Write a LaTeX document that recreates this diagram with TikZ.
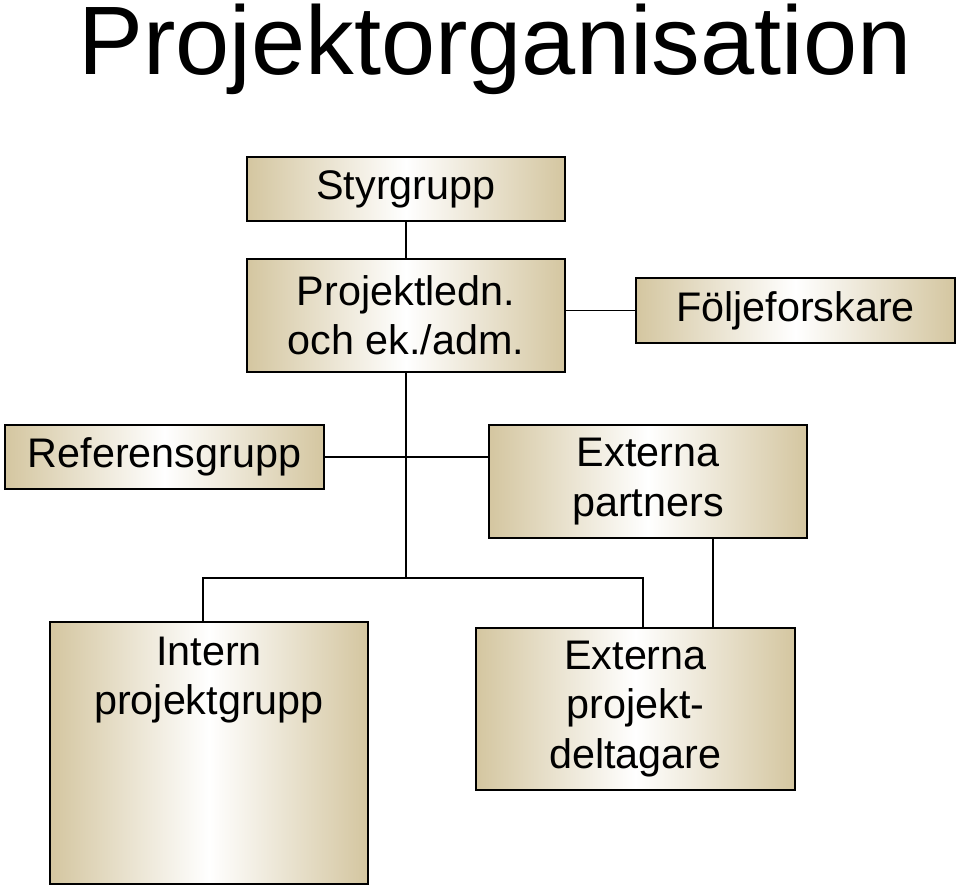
\documentclass[tikz,border=0pt]{standalone}
\usepackage{fontspec}
\setmainfont{Liberation Sans}
\definecolor{tan}{RGB}{212,198,160}
\begin{document}
\begin{tikzpicture}[x=0.75pt, y=-0.75pt, line width=1.2pt,
    orgbox/.style={draw, left color=tan, right color=tan, middle color=white, inner sep=0pt},
    orgtext/.style={align=center, font=\fontsize{31}{37}\selectfont}]
    \useasboundingbox (0,0) rectangle (960,886);

    % title
    \node[font=\fontsize{73}{80}\selectfont] (title) at (495,49) {Projektorganisation};

    % boxes
    \node[orgbox, minimum width=318*0.75pt, minimum height=64*0.75pt] (styr) at (406,189) {};
    \node[orgbox, minimum width=318*0.75pt, minimum height=113*0.75pt] (proj) at (406,315.5) {};
    \node[orgbox, minimum width=319*0.75pt, minimum height=65*0.75pt] (folj) at (795.5,310.5) {};
    \node[orgbox, minimum width=319*0.75pt, minimum height=64*0.75pt] (ref) at (164.5,457) {};
    \node[orgbox, minimum width=318*0.75pt, minimum height=113*0.75pt] (extp) at (648,481.5) {};
    \node[orgbox, minimum width=318*0.75pt, minimum height=262*0.75pt] (intern) at (209,753) {};
    \node[orgbox, minimum width=319*0.75pt, minimum height=162*0.75pt] (extd) at (635.5,709) {};

    % texts
    \node[orgtext] (styrtxt) at (styr) {Styrgrupp};
    \node[orgtext] (projtxt) at (proj) {Projektledn.\\och ek./adm.};
    \node[orgtext] (foljtxt) at (folj) {Följeforskare};
    \node[orgtext] (reftxt) at (ref) {Referensgrupp};
    \node[orgtext] (extptxt) at (extp) {Externa\\partners};
    \node[orgtext] (interntxt) at (209,680) {Intern\\projektgrupp};
    \node[orgtext] (extdtxt) at (extd) {Externa\\projekt-\\deltagare};

    % connectors
    \coordinate (hub) at (406,578);
    \draw (styr) -- (proj);
    \draw (folj.west) -- (folj.west -| proj.east);
    \draw (ref.east) -- (ref.east -| extp.west);
    \draw (proj.south) -- (hub);
    \draw (intern.north -| 203,0) |- (hub) -| (extd.north -| 643,0);
    \draw (extp.south -| 713,0) -- (extd.north -| 713,0);
\end{tikzpicture}
\end{document}
